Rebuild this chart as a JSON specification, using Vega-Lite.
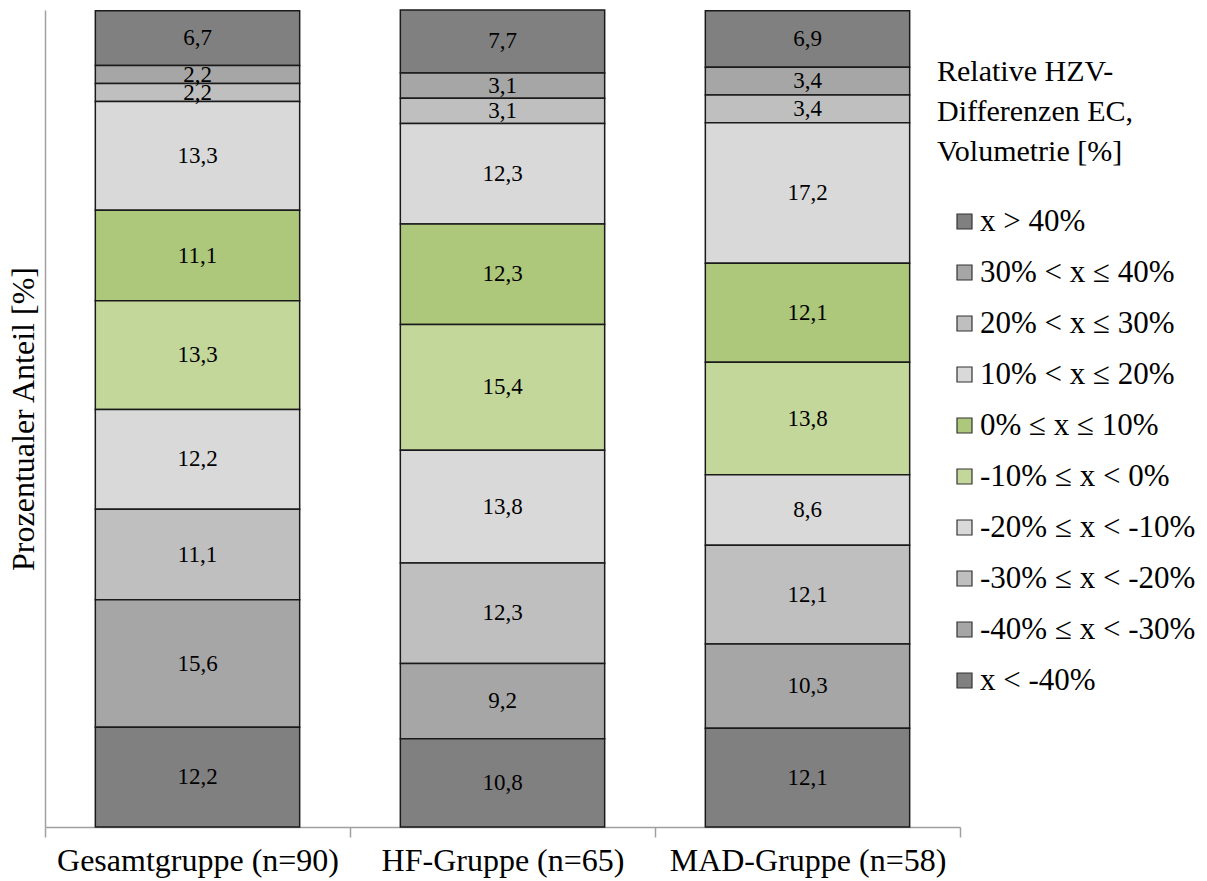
{
  "$schema": "https://vega.github.io/schema/vega-lite/v6.json",
  "width": 915,
  "height": 817,
  "autosize": {"type": "none"},
  "padding": {"left": 45, "top": 10, "right": 247, "bottom": 54},
  "background": "white",
  "config": {
    "font": "Liberation Serif",
    "view": {"stroke": null}
  },
  "data": {
    "values": [
      {"gruppe": "Gesamtgruppe (n=90)", "klasse": "x > 40%", "anteil": 6.7},
      {"gruppe": "Gesamtgruppe (n=90)", "klasse": "30% < x ≤ 40%", "anteil": 2.2},
      {"gruppe": "Gesamtgruppe (n=90)", "klasse": "20% < x ≤ 30%", "anteil": 2.2},
      {"gruppe": "Gesamtgruppe (n=90)", "klasse": "10% < x ≤ 20%", "anteil": 13.3},
      {"gruppe": "Gesamtgruppe (n=90)", "klasse": "0% ≤ x ≤ 10%", "anteil": 11.1},
      {"gruppe": "Gesamtgruppe (n=90)", "klasse": "-10% ≤ x < 0%", "anteil": 13.3},
      {"gruppe": "Gesamtgruppe (n=90)", "klasse": "-20% ≤ x < -10%", "anteil": 12.2},
      {"gruppe": "Gesamtgruppe (n=90)", "klasse": "-30% ≤ x < -20%", "anteil": 11.1},
      {"gruppe": "Gesamtgruppe (n=90)", "klasse": "-40% ≤ x < -30%", "anteil": 15.6},
      {"gruppe": "Gesamtgruppe (n=90)", "klasse": "x < -40%", "anteil": 12.2},
      {"gruppe": "HF-Gruppe (n=65)", "klasse": "x > 40%", "anteil": 7.7},
      {"gruppe": "HF-Gruppe (n=65)", "klasse": "30% < x ≤ 40%", "anteil": 3.1},
      {"gruppe": "HF-Gruppe (n=65)", "klasse": "20% < x ≤ 30%", "anteil": 3.1},
      {"gruppe": "HF-Gruppe (n=65)", "klasse": "10% < x ≤ 20%", "anteil": 12.3},
      {"gruppe": "HF-Gruppe (n=65)", "klasse": "0% ≤ x ≤ 10%", "anteil": 12.3},
      {"gruppe": "HF-Gruppe (n=65)", "klasse": "-10% ≤ x < 0%", "anteil": 15.4},
      {"gruppe": "HF-Gruppe (n=65)", "klasse": "-20% ≤ x < -10%", "anteil": 13.8},
      {"gruppe": "HF-Gruppe (n=65)", "klasse": "-30% ≤ x < -20%", "anteil": 12.3},
      {"gruppe": "HF-Gruppe (n=65)", "klasse": "-40% ≤ x < -30%", "anteil": 9.2},
      {"gruppe": "HF-Gruppe (n=65)", "klasse": "x < -40%", "anteil": 10.8},
      {"gruppe": "MAD-Gruppe (n=58)", "klasse": "x > 40%", "anteil": 6.9},
      {"gruppe": "MAD-Gruppe (n=58)", "klasse": "30% < x ≤ 40%", "anteil": 3.4},
      {"gruppe": "MAD-Gruppe (n=58)", "klasse": "20% < x ≤ 30%", "anteil": 3.4},
      {"gruppe": "MAD-Gruppe (n=58)", "klasse": "10% < x ≤ 20%", "anteil": 17.2},
      {"gruppe": "MAD-Gruppe (n=58)", "klasse": "0% ≤ x ≤ 10%", "anteil": 12.1},
      {"gruppe": "MAD-Gruppe (n=58)", "klasse": "-10% ≤ x < 0%", "anteil": 13.8},
      {"gruppe": "MAD-Gruppe (n=58)", "klasse": "-20% ≤ x < -10%", "anteil": 8.6},
      {"gruppe": "MAD-Gruppe (n=58)", "klasse": "-30% ≤ x < -20%", "anteil": 12.1},
      {"gruppe": "MAD-Gruppe (n=58)", "klasse": "-40% ≤ x < -30%", "anteil": 10.3},
      {"gruppe": "MAD-Gruppe (n=58)", "klasse": "x < -40%", "anteil": 12.1}
    ]
  },
  "transform": [
    {"calculate": "indexof(['x < -40%', '-40% ≤ x < -30%', '-30% ≤ x < -20%', '-20% ≤ x < -10%', '-10% ≤ x < 0%', '0% ≤ x ≤ 10%', '10% < x ≤ 20%', '20% < x ≤ 30%', '30% < x ≤ 40%', 'x > 40%'], datum.klasse)", "as": "rang"},
    {"stack": "anteil", "groupby": ["gruppe"], "sort": [{"field": "rang", "order": "ascending"}], "as": ["unten", "oben"]},
    {"calculate": "(datum.unten + datum.oben) / 2", "as": "mitte"},
    {"calculate": "replace(format(datum.anteil, '.1f'), '.', ',')", "as": "beschriftung"}
  ],
  "encoding": {
    "x": {
      "field": "gruppe",
      "type": "nominal",
      "sort": null,
      "scale": {"paddingInner": 0, "paddingOuter": 0},
      "axis": {
        "title": null,
        "labelAngle": 0,
        "labelFont": "Liberation Serif",
        "labelFontSize": 32,
        "labelColor": "#000000",
        "labelLimit": 400,
        "labelPadding": 8,
        "tickBand": "extent",
        "domainColor": "#a0a0a0",
        "domainWidth": 1.5,
        "tickColor": "#a0a0a0",
        "tickWidth": 1.5,
        "tickSize": 10
      }
    }
  },
  "layer": [
    {
      "mark": {"type": "bar", "stroke": "#1a1a1a", "strokeWidth": 1.5, "width": {"band": 0.67}},
      "encoding": {
        "y": {
          "field": "unten",
          "type": "quantitative",
          "scale": {"domain": [0, 100], "nice": false},
          "axis": {
            "title": "Prozentualer Anteil [%]",
            "titleFont": "Liberation Serif",
            "titleFontSize": 32,
            "titleFontWeight": "normal",
            "titleColor": "#000000",
            "titlePadding": 5,
            "labels": false,
            "ticks": false,
            "grid": false,
            "domainColor": "#a0a0a0",
            "domainWidth": 1.5
          }
        },
        "y2": {"field": "oben"},
        "color": {
          "field": "klasse",
          "type": "nominal",
          "scale": {
            "domain": ["x > 40%", "30% < x ≤ 40%", "20% < x ≤ 30%", "10% < x ≤ 20%", "0% ≤ x ≤ 10%", "-10% ≤ x < 0%", "-20% ≤ x < -10%", "-30% ≤ x < -20%", "-40% ≤ x < -30%", "x < -40%"],
            "range": ["#808080", "#a6a6a6", "#bfbfbf", "#d9d9d9", "#adc77b", "#c4d79b", "#d9d9d9", "#bfbfbf", "#a6a6a6", "#808080"]
          },
          "legend": {
            "orient": "none",
            "legendX": 892,
            "legendY": 47,
            "title": ["Relative HZV-", "Differenzen EC,", "Volumetrie [%]"],
            "titleFont": "Liberation Serif",
            "titleFontSize": 30,
            "titleFontWeight": "normal",
            "titleColor": "#000000",
            "titleLineHeight": 40,
            "titlePadding": 39,
            "titleLimit": 300,
            "labelFont": "Liberation Serif",
            "labelFontSize": 31,
            "labelColor": "#000000",
            "labelLimit": 300,
            "labelOffset": 0,
            "symbolOffset": 12,
            "symbolType": "square",
            "symbolSize": 225,
            "symbolStrokeColor": "#333333",
            "symbolStrokeWidth": 1.2,
            "symbolOpacity": 1,
            "rowPadding": 19
          }
        }
      }
    },
    {
      "mark": {"type": "text", "font": "Liberation Serif", "fontSize": 23, "color": "#000000", "baseline": "middle"},
      "encoding": {
        "y": {"field": "mitte", "type": "quantitative"},
        "text": {"field": "beschriftung", "type": "nominal"}
      }
    }
  ]
}
